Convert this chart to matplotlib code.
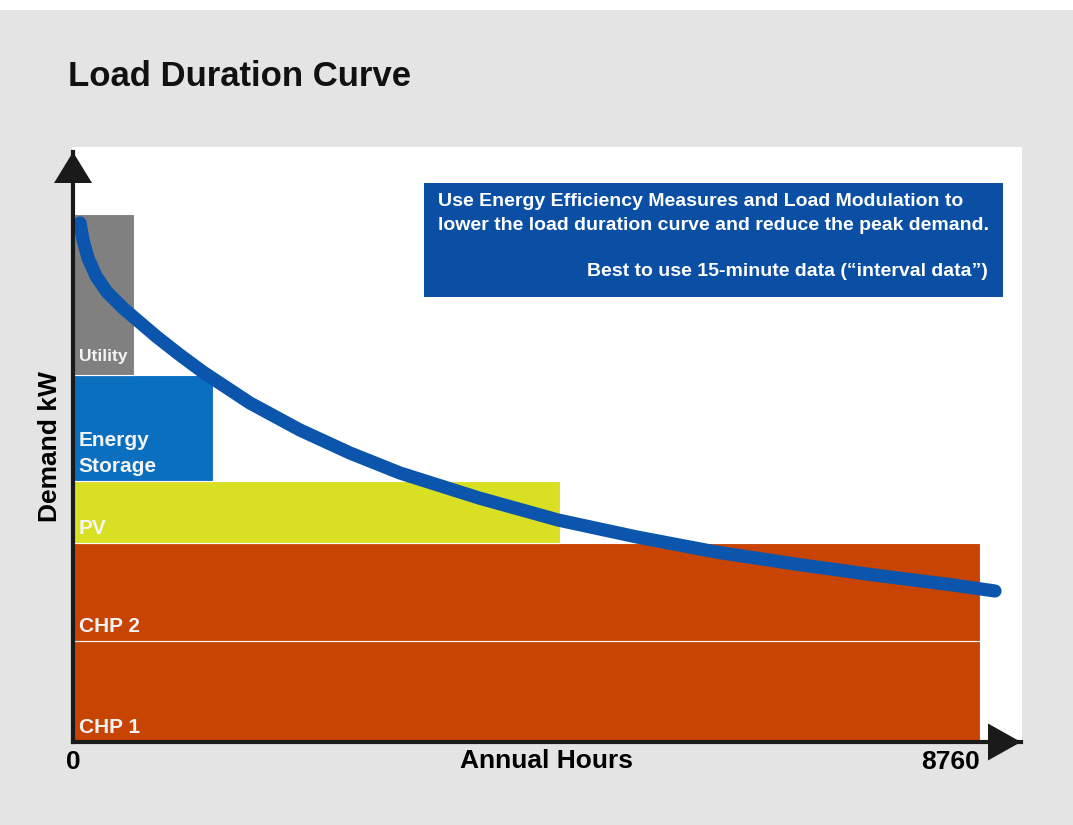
import matplotlib.pyplot as plt
from matplotlib.patches import Rectangle, Polygon
from matplotlib.transforms import ScaledTranslation

plt.rcParams["font.family"] = ["Liberation Sans", "DejaVu Sans"]
plt.rcParams["font.weight"] = "bold"

# supply blocks (stacked from the bottom), kW / hours
BLOCKS = ["CHP 1", "CHP 2", "PV", "Energy\nStorage", "Utility"]
BLOCK_BOTTOM = [0, 101, 199, 261, 367]
BLOCK_TOP = [101, 199, 261, 367, 528]
BLOCK_HOURS = [8760, 8760, 4700, 1350, 590]
BLOCK_COLORS = ["#c74402", "#c74402", "#d9df22", "#0b6fbf", "#808080"]

# load duration curve
CURVE_HOURS = [68, 97, 145, 222, 328, 483, 618, 811, 1033, 1255, 1709, 2192,
               2675, 3158, 3921, 4684, 5447, 6210, 6973, 7736, 8499, 8905]
CURVE_KW = [519, 502, 484, 466, 450, 434, 422, 405, 387, 370, 339, 312,
            289, 269, 244, 222, 205, 190, 178, 167, 157, 151]

X_TICKS = [0, 8760]
X_TICK_LABELS = ["0", "8760"]

NOTE_LINES = ["Use Energy Efficiency Measures and Load Modulation to",
              "lower the load duration curve and reduce the peak demand."]
NOTE_FOOT = "Best to use 15-minute data (\u201cinterval data\u201d)"

W, H = 1073, 825
fig = plt.figure(figsize=(W / 100, H / 100), dpi=100, facecolor="#e4e4e4")

# white plotting panel behind the axes, plus the light border of the scan
fig.patches.append(Rectangle((72 / W, (H - 742) / H), 950 / W, 595 / H,
                             transform=fig.transFigure, facecolor="white",
                             edgecolor="none", zorder=-2))
fig.patches.append(Rectangle((0, 1 - 10 / H), 1, 10 / H, transform=fig.transFigure,
                             facecolor="white", edgecolor="none", zorder=-2))

ax = fig.add_axes([73 / W, (H - 742) / H, 948 / W, 590 / H])
ax.set_facecolor("none")
ax.set_xlim(0, 9156)
ax.set_ylim(0, 590)

for name, b, t, w, c in zip(BLOCKS, BLOCK_BOTTOM, BLOCK_TOP, BLOCK_HOURS, BLOCK_COLORS):
    ax.bar(0, t - b, width=w, bottom=b, align="edge", color=c,
           edgecolor="white", linewidth=0.8, zorder=2)
    small = name == "Utility"
    ax.text(55, b + (14 if small else 9), name, color="#f4f4f4", ha="left",
            va="baseline", fontsize=12.5 if small else 15, fontweight="bold",
            linespacing=1.45, zorder=3)

ax.plot(CURVE_HOURS, CURVE_KW, color="#0b55ad", linewidth=9.5,
        solid_capstyle="round", solid_joinstyle="round", zorder=4, clip_on=False)

# note box
ax.add_patch(Rectangle((3390, 445), 5592, 114, facecolor="#0b4fa4",
                       edgecolor="none", zorder=5, clip_on=False))
for i, line in enumerate(NOTE_LINES):
    ax.text(3525, 541 - 24 * i, line, color="white", fontsize=14,
            fontweight="bold", ha="left", va="center", zorder=6)
ax.text(8837, 471, NOTE_FOOT, color="white", fontsize=14,
        fontweight="bold", ha="right", va="center", zorder=6)

# axes with arrow heads
for s in ["top", "right"]:
    ax.spines[s].set_visible(False)
for s in ["left", "bottom"]:
    ax.spines[s].set_linewidth(3)
    ax.spines[s].set_color("#1a1a1a")
    ax.spines[s].set_zorder(6)
ax.set_yticks([])
ax.set_xticks(X_TICKS)
ax.set_xticklabels(X_TICK_LABELS, fontsize=19, fontweight="bold")
ax.tick_params(axis="x", length=0, pad=6)
for lbl in ax.get_xticklabels()[1:]:
    lbl.set_horizontalalignment("right")

px = 1 / 100
up = fig.dpi_scale_trans + ScaledTranslation(0, 1, ax.transAxes)
ax.add_patch(Polygon([(0, 0), (-19 * px, -31 * px), (19 * px, -31 * px)],
                     closed=True, transform=up, facecolor="#1a1a1a",
                     edgecolor="none", clip_on=False, zorder=7))
right = fig.dpi_scale_trans + ScaledTranslation(1, 0, ax.transAxes)
ax.add_patch(Polygon([(0, 0), (-33 * px, 18.5 * px), (-33 * px, -18.5 * px)],
                     closed=True, transform=right, facecolor="#1a1a1a",
                     edgecolor="none", clip_on=False, zorder=7))

ax.set_xlabel("Annual Hours", fontsize=19, fontweight="bold", labelpad=-18)
ax.set_ylabel("Demand kW", fontsize=19, fontweight="bold", labelpad=8)

fig.text(68 / W, (H - 86) / H, "Load Duration Curve", fontsize=25,
         fontweight="bold", ha="left", va="baseline", color="#111111")

fig.savefig("out.png", dpi=100, facecolor=fig.get_facecolor())
